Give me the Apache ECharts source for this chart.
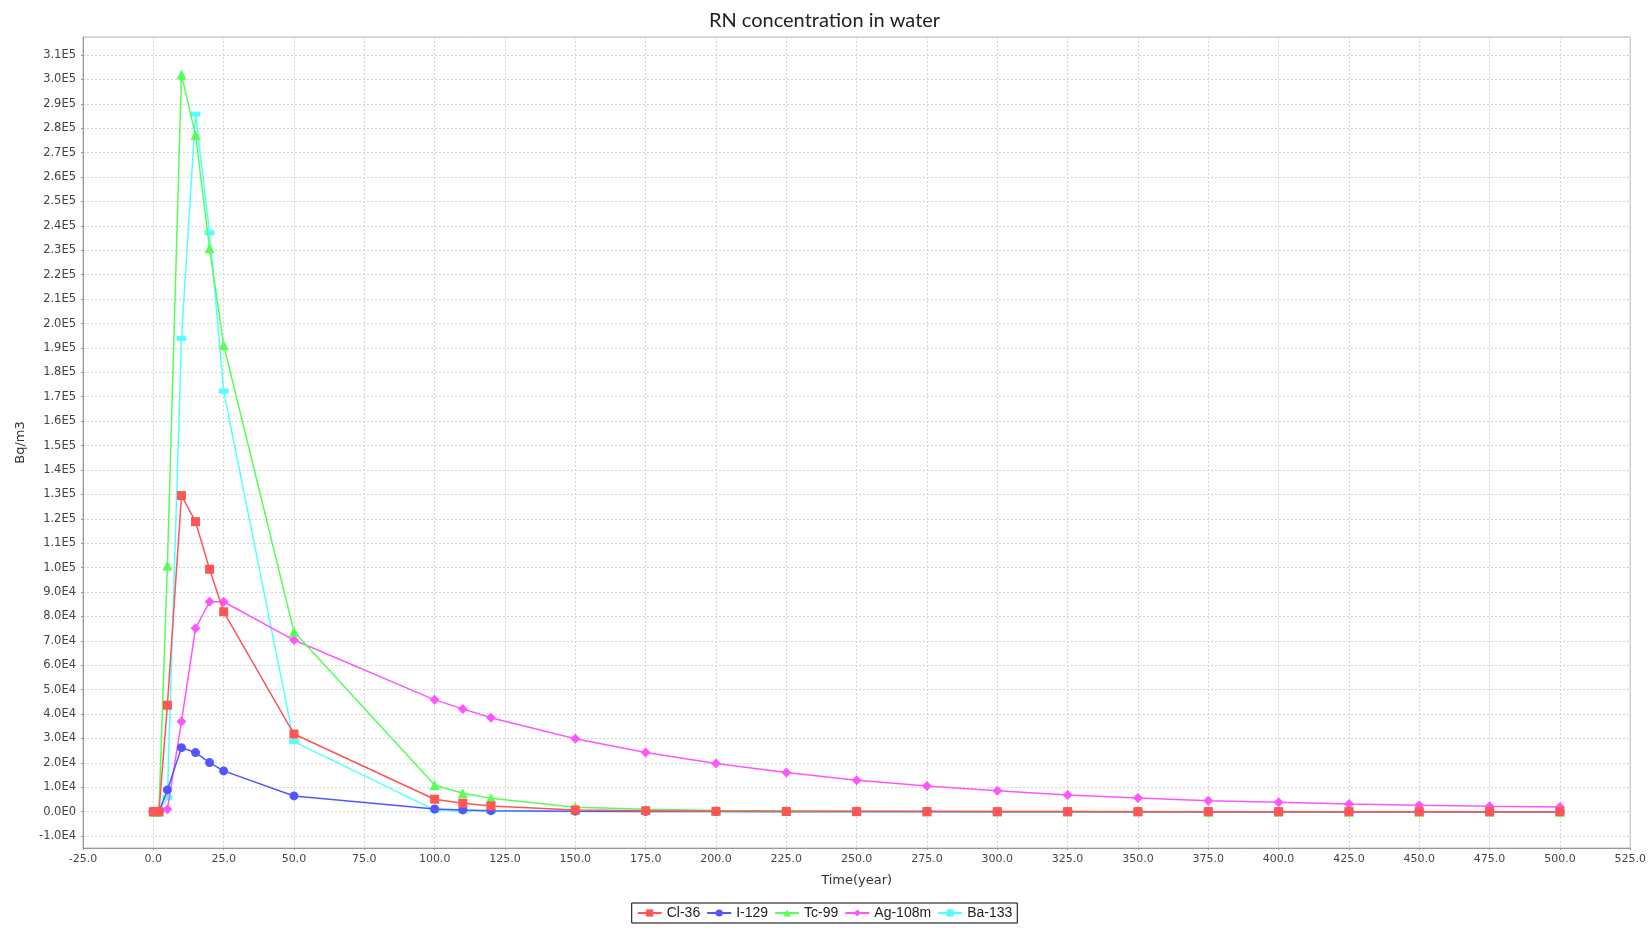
<!DOCTYPE html>
<html>
<head>
<meta charset="utf-8">
<title>RN concentration in water</title>
<script src="https://cdn.jsdelivr.net/npm/echarts@6/dist/echarts.min.js"></script>
<style>
    html, body { margin: 0; padding: 0; background: #fff; }
    #chart { width: 1649px; height: 931px; }
</style>
</head>
<body>
<div id="chart"></div>
<script>
// 时间点 (year)
var years = [0, 1, 2, 5, 10, 15, 20, 25, 50, 100, 110, 120, 150, 175, 200, 225, 250, 275, 300, 325, 350, 375, 400, 425, 450, 475, 500];

// 各核素浓度 (Bq/m3)
var cl36 = [0, 0, 0, 43600, 129500, 118800, 99300, 81900, 31800, 5080, 3440, 2330, 700, 400, 150, 80, 40, 20, 10, 5, 0, 0, 0, 0, 0, 0, 0];
var i129 = [0, 0, 0, 8900, 26200, 24200, 20100, 16700, 6430, 1100, 700, 400, 200, 100, 50, 20, 10, 5, 0, 0, 0, 0, 0, 0, 0, 0, 0];
var tc99 = [0, 0, 0, 100900, 302000, 277200, 230800, 191200, 73700, 10940, 7530, 5480, 1790, 980, 500, 250, 120, 60, 30, 15, 8, 4, 2, 1, 0, 0, 0];
var ag108m = [0, 0, 0, 1000, 36900, 75100, 86000, 86000, 70300, 45800, 42100, 38500, 29900, 24200, 19700, 16000, 12900, 10500, 8600, 6850, 5630, 4500, 3850, 3150, 2600, 2200, 1900];
var ba133 = [0, 0, 0, 5740, 193900, 285800, 237200, 172300, 28700, 700, 300, 150, 50, 20, 10, 0, 0, 0, 0, 0, 0, 0, 0, 0, 0, 0, 0];

var seriesNames = ['Cl-36', 'I-129', 'Tc-99', 'Ag-108m', 'Ba-133'];
var seriesColors = ['#FF5555', '#5555FF', '#55FF55', '#FF55FF', '#55FFFF'];

// 把x和y组合成点对
function pairs(ys) {
    var arr = [];
    for (var i = 0; i < years.length; i++) {
        arr.push([years[i], ys[i]]);
    }
    return arr;
}

// y轴标签: 3.1E5 这种格式
function sciLabel(v) {
    if (Math.abs(v) < 1e-9) {
        return '0.0E0';
    }
    var e = Math.floor(Math.log10(Math.abs(v)) + 1e-9);
    var m = v / Math.pow(10, e);
    return m.toFixed(1) + 'E' + e;
}

var labelFont = 'DejaVu Sans, Verdana, sans-serif';
var legendFont = 'Liberation Sans, Arial, sans-serif';
var gridLine = { show: true, lineStyle: { color: '#d4d4d4', type: [2, 2], width: 1 } };

var chart = echarts.init(document.getElementById('chart'));

var option = {
    backgroundColor: '#fff',
    animation: false,
    color: seriesColors,
    title: {
        text: 'RN concentration in water',
        left: 'center',
        top: 6,
        textStyle: {
            fontFamily: 'Lato, sans-serif',
            fontWeight: 'normal',
            fontSize: 20,
            color: '#222'
        }
    },
    grid: {
        left: 83,
        right: 12,
        top: 37,
        bottom: 83,
        show: true,
        borderColor: '#b4b4b4',
        borderWidth: 1,
        containLabel: false
    },
    legend: {
        bottom: 8,
        left: 'center',
        data: seriesNames,
        borderColor: '#000',
        borderWidth: 1,
        padding: [3, 5, 3, 5],
        itemGap: 6,
        itemWidth: 24,
        itemHeight: 9,
        textStyle: { fontFamily: legendFont, fontSize: 14, color: '#222' }
    },
    xAxis: {
        type: 'value',
        min: -25,
        max: 525,
        interval: 25,
        name: 'Time(year)',
        nameLocation: 'middle',
        nameGap: 26,
        nameTextStyle: { fontFamily: labelFont, fontSize: 13, color: '#333' },
        axisLine: { show: true, onZero: false, lineStyle: { color: '#999' } },
        axisTick: { show: true, length: 2, lineStyle: { color: '#999' } },
        axisLabel: {
            fontFamily: labelFont,
            fontSize: 11,
            color: '#444',
            margin: 6,
            formatter: function (v) { return v.toFixed(1); }
        },
        splitLine: gridLine
    },
    yAxis: {
        type: 'value',
        // 上下各留一点余量; 不设 interval, 用 min/maxInterval 固定成 1.0E4
        min: -14900,
        max: 317400,
        minInterval: 10000,
        maxInterval: 10000,
        splitNumber: 33,
        name: 'Bq/m3',
        nameLocation: 'middle',
        nameGap: 56,
        nameTextStyle: { fontFamily: labelFont, fontSize: 13, color: '#333' },
        axisLine: { show: true, onZero: false, lineStyle: { color: '#999' } },
        axisTick: { show: true, length: 2, lineStyle: { color: '#999' } },
        axisLabel: {
            fontFamily: labelFont,
            fontSize: 11.5,
            color: '#444',
            margin: 7,
            showMinLabel: false,
            showMaxLabel: false,
            formatter: sciLabel
        },
        splitLine: gridLine
    },
    series: [
        {
            name: 'Cl-36', type: 'line', data: pairs(cl36), z: 7,
            symbol: 'rect', symbolSize: 9, showAllSymbol: true,
            lineStyle: { width: 1.5 }
        },
        {
            name: 'I-129', type: 'line', data: pairs(i129), z: 6,
            symbol: 'circle', symbolSize: 9, showAllSymbol: true,
            lineStyle: { width: 1.5 }
        },
        {
            name: 'Tc-99', type: 'line', data: pairs(tc99), z: 5,
            symbol: 'triangle', symbolSize: 10, showAllSymbol: true,
            lineStyle: { width: 1.5 }
        },
        {
            name: 'Ag-108m', type: 'line', data: pairs(ag108m), z: 4,
            symbol: 'diamond', symbolSize: 10, showAllSymbol: true,
            lineStyle: { width: 1.5 }
        },
        {
            name: 'Ba-133', type: 'line', data: pairs(ba133), z: 3,
            symbol: 'rect', symbolSize: [10, 5], showAllSymbol: true,
            lineStyle: { width: 1.5 }
        }
    ]
};

chart.setOption(option);
</script>
</body>
</html>
